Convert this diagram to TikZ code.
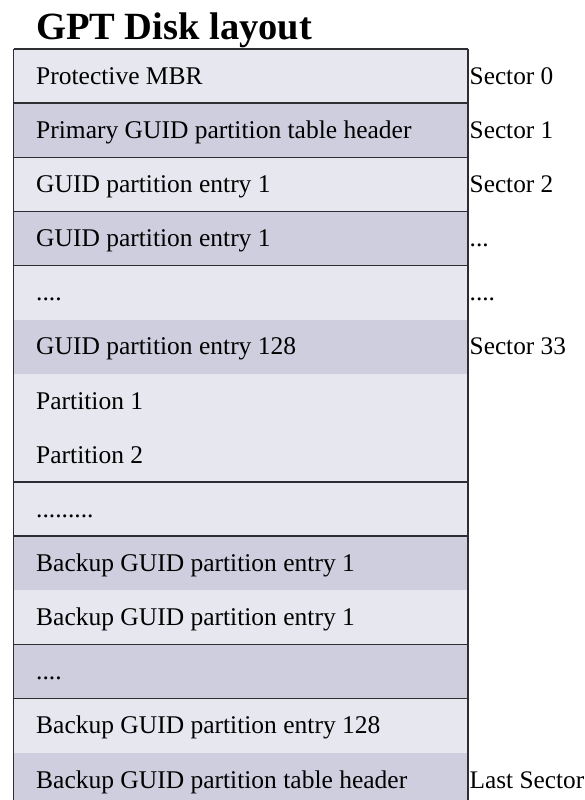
\documentclass[tikz,border=0pt]{standalone}
\usepackage{fontspec}
\setmainfont{Liberation Serif}
\definecolor{rowlight}{RGB}{231,232,239}
\definecolor{rowdark}{RGB}{206,206,223}
\definecolor{rulecol}{RGB}{45,45,50}
\begin{document}
\begin{tikzpicture}[x=1pt,y=-1pt,
  entry/.style={anchor=base west,inner sep=0pt,font=\fontsize{25.5}{30}\selectfont},
  sidelabel/.style={anchor=base west,inner sep=0pt,font=\fontsize{25.3}{30}\selectfont},
  heading/.style={anchor=base west,inner sep=0pt,font=\fontsize{38.5}{44}\selectfont\bfseries},
  rulerow/.style={draw=rulecol,line width=1.4pt}]
\useasboundingbox (0,0) rectangle (585,800);
\def\rh{54.13}
\def\tp{49}
\def\bl{35.3}
\begin{scope}
\clip (0,0) rectangle (585,800);
% row backgrounds
\foreach \i/\c in {0/rowlight,1/rowdark,2/rowlight,3/rowdark,4/rowlight,5/rowdark,
                   6/rowlight,7/rowlight,8/rowlight,9/rowdark,10/rowlight,11/rowdark,
                   12/rowlight,13/rowdark}
  \fill[\c] (13.5,{\tp+\rh*\i}) rectangle (468,{\tp+\rh*(\i+1)});
\end{scope}
% row separators
\draw[rulerow] (13.5,\tp) -- (468,\tp);
\foreach \k in {1,2,3,4,8,9,11,12}
  \draw[rulerow] (13.5,{\tp+\rh*\k}) -- (468,{\tp+\rh*\k});
% outer sides
\draw[rulerow] (13.5,\tp) -- (13.5,800);
\draw[rulerow] (468,\tp) -- (468,800);

% heading
\node[heading] (title) at (36,39.3) {GPT Disk layout};

% entries
\node[entry] (e0)  at (36,{\tp+\bl+\rh*0})  {Protective MBR};
\node[entry] (e1)  at (36,{\tp+\bl+\rh*1})  {Primary GUID partition table header};
\node[entry] (e2)  at (36,{\tp+\bl+\rh*2})  {GUID partition entry 1};
\node[entry] (e3)  at (36,{\tp+\bl+\rh*3})  {GUID partition entry 1};
\node[entry] (e4)  at (36,{\tp+\bl+\rh*4})  {....};
\node[entry] (e5)  at (36,{\tp+\bl+\rh*5})  {GUID partition entry 128};
\node[entry] (e6)  at (36,{\tp+\bl+\rh*6})  {Partition 1};
\node[entry] (e7)  at (36,{\tp+\bl+\rh*7})  {Partition 2};
\node[entry] (e8)  at (36,{\tp+\bl+\rh*8})  {.........};
\node[entry] (e9)  at (36,{\tp+\bl+\rh*9})  {Backup GUID partition entry 1};
\node[entry] (e10) at (36,{\tp+\bl+\rh*10}) {Backup GUID partition entry 1};
\node[entry] (e11) at (36,{\tp+\bl+\rh*11}) {....};
\node[entry] (e12) at (36,{\tp+\bl+\rh*12}) {Backup GUID partition entry 128};
\node[entry] (e13) at (36,{\tp+\bl+\rh*13}) {Backup GUID partition table header};

% sector labels
\node[sidelabel] (s0)  at (469.5,{\tp+\bl+\rh*0})  {Sector 0};
\node[sidelabel] (s1)  at (469.5,{\tp+\bl+\rh*1})  {Sector 1};
\node[sidelabel] (s2)  at (469.5,{\tp+\bl+\rh*2})  {Sector 2};
\node[sidelabel] (s3)  at (469.5,{\tp+\bl+\rh*3})  {...};
\node[sidelabel] (s4)  at (469.5,{\tp+\bl+\rh*4})  {....};
\node[sidelabel] (s5)  at (469.5,{\tp+\bl+\rh*5})  {Sector 33};
\node[sidelabel] (s13) at (469.5,{\tp+\bl+\rh*13}) {Last Sector};
\end{tikzpicture}
\end{document}
